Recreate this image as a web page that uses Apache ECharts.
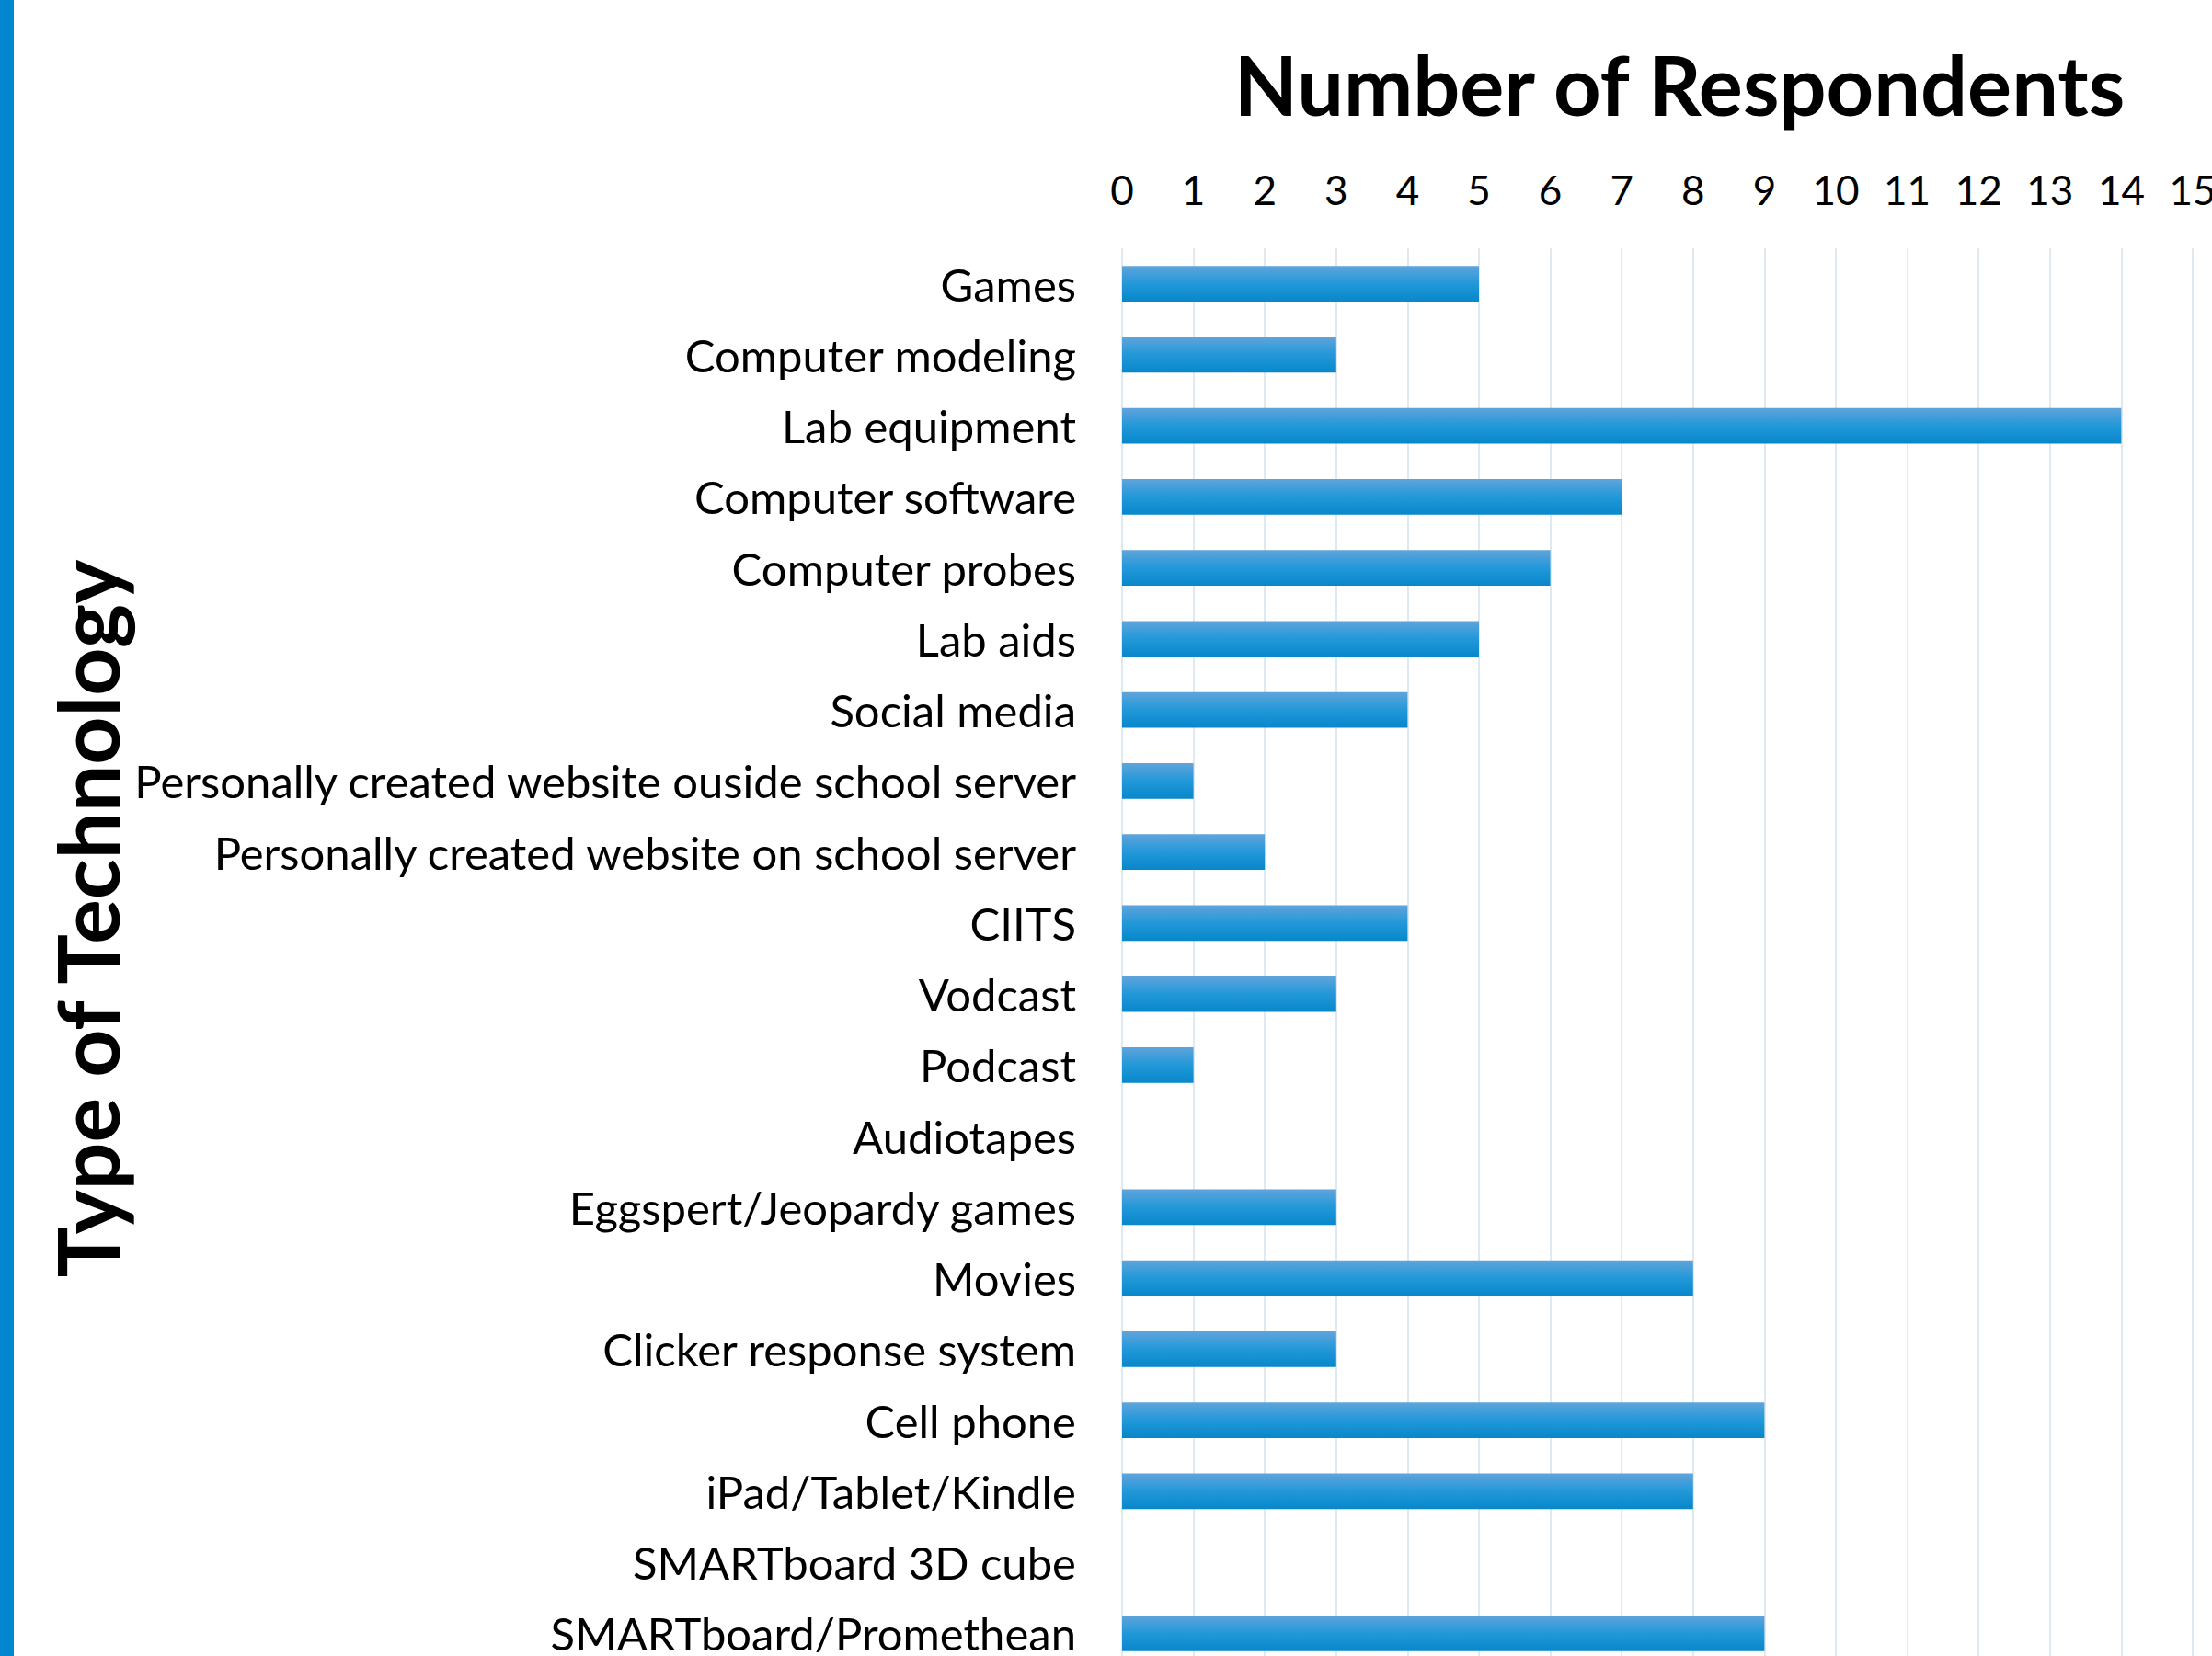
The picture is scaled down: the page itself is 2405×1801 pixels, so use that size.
<!DOCTYPE html>
<html>
<head>
<meta charset="utf-8">
<script src="https://cdn.jsdelivr.net/npm/echarts@6/dist/echarts.min.js"></script>
<style>
  html, body { margin: 0; padding: 0; background: #fff; }
  #chart { width: 2405px; height: 1801px; }
</style>
</head>
<body>
<div id="chart"></div>
<script>
// categories top to bottom
const categories = [
  'Games',
  'Computer modeling',
  'Lab equipment',
  'Computer software',
  'Computer probes',
  'Lab aids',
  'Social media',
  'Personally created website ouside school server',
  'Personally created website on school server',
  'CIITS',
  'Vodcast',
  'Podcast',
  'Audiotapes',
  'Eggspert/Jeopardy games',
  'Movies',
  'Clicker response system',
  'Cell phone',
  'iPad/Tablet/Kindle',
  'SMARTboard 3D cube',
  'SMARTboard/Promethean'
];
const respondents = [5, 3, 14, 7, 6, 5, 4, 1, 2, 4, 3, 1, 0, 3, 8, 3, 9, 8, 0, 9];
const xTitle = 'Number of Respondents';
const yTitle = 'Type of Technology';

const FONT = 'Lato, "Open Sans", sans-serif';

const chart = echarts.init(document.getElementById('chart'), null, { renderer: 'svg' });

const option = {
  backgroundColor: '#fff',
  animation: false,
  grid: {
    left: 1220,
    right: 21,
    top: 270,
    height: 1545,
    containLabel: false,
    outerBoundsMode: 'none'
  },
  xAxis: {
    type: 'value',
    position: 'top',
    min: 0,
    max: 15,
    interval: 1,
    axisLine: { show: false },
    axisTick: { show: false },
    axisLabel: {
      color: '#000',
      fontFamily: FONT,
      fontSize: 44,
      margin: 42,
      hideOverlap: false
    },
    splitLine: {
      show: true,
      lineStyle: { color: '#dfe9f1', width: 2 }
    }
  },
  yAxis: {
    type: 'category',
    inverse: true,
    data: categories,
    axisLine: { show: false },
    axisTick: { show: false },
    axisLabel: {
      color: '#000',
      fontFamily: FONT,
      fontSize: 49,
      margin: 50
    }
  },
  series: [{
    type: 'bar',
    data: respondents,
    barWidth: '50%',
    itemStyle: {
      color: new echarts.graphic.LinearGradient(0, 0, 0, 1, [
        { offset: 0, color: '#60a4db' },
        { offset: 0.5, color: '#2298d9' },
        { offset: 1, color: '#0787ca' }
      ])
    }
  }],
  graphic: [
    {
      type: 'rect',
      left: 0,
      top: 0,
      shape: { width: 15, height: 1801 },
      style: { fill: '#0087d0' }
    },
    {
      type: 'text',
      x: 1826,
      y: 91,
      style: {
        text: xTitle,
        fontFamily: FONT,
        fontWeight: 'bold',
        fontSize: 90,
        fill: '#000',
        textAlign: 'center',
        textVerticalAlign: 'middle'
      }
    },
    {
      type: 'text',
      x: 94,
      y: 999,
      rotation: Math.PI / 2,
      style: {
        text: yTitle,
        fontFamily: FONT,
        fontWeight: 'bold',
        fontSize: 91,
        fill: '#000',
        textAlign: 'center',
        textVerticalAlign: 'middle'
      }
    }
  ]
};

chart.setOption(option);
</script>
</body>
</html>
